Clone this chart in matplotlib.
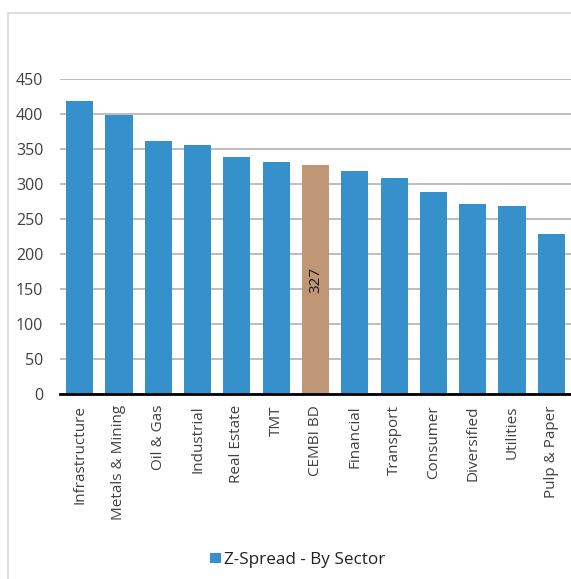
import matplotlib.pyplot as plt
from matplotlib.patches import Rectangle
import numpy as np

plt.rcParams['font.family'] = ['Open Sans', 'DejaVu Sans']

# Data
sectors = ["Infrastructure", "Metals & Mining", "Oil & Gas", "Industrial", "Real Estate",
           "TMT", "CEMBI BD", "Financial", "Transport", "Consumer", "Diversified",
           "Utilities", "Pulp & Paper"]
z_spread = [418, 398, 362, 355, 339, 331, 327, 318, 309, 289, 271, 268, 228]
highlight = "CEMBI BD"

blue = '#3690CB'
tan = '#BF9676'

fig = plt.figure(figsize=(5.71, 5.79), dpi=100)

# light gray chart border (cut off at right and bottom)
fig.patches.append(Rectangle((8 / 571, -0.1), 1.2, 1.1 - 13 / 579,
                             transform=fig.transFigure, fill=False,
                             edgecolor='#D9D9D9', linewidth=1.2))

ax = fig.add_axes([60 / 571, (579 - 394) / 579, (571 - 60) / 571, (394 - 79) / 579])

x = np.arange(len(sectors))
colors = [tan if s == highlight else blue for s in sectors]
bars = ax.bar(x, z_spread, width=0.69, color=colors, zorder=3)

# value label on the highlighted bar
i = sectors.index(highlight)
ax.text(x[i], z_spread[i] / 2, str(z_spread[i]), rotation=90,
        ha='center', va='center', fontsize=11, color='#1a1a1a', zorder=4)

ax.set_xlim(-0.5, len(sectors) - 0.5)
ax.set_ylim(0, 450)
ax.set_yticks(np.arange(0, 451, 50))
ax.yaxis.grid(True, color='#B8B8B8', linewidth=1.3, zorder=0)
ax.set_axisbelow(True)

for side in ['top', 'right', 'left']:
    ax.spines[side].set_visible(False)
ax.spines['bottom'].set_color('black')
ax.spines['bottom'].set_linewidth(2)
ax.spines['bottom'].set_zorder(5)

ax.set_xticks(x)
ax.set_xticklabels(sectors, rotation=90, fontsize=11, color='#404040')
ax.tick_params(axis='both', length=0)
ax.tick_params(axis='y', labelsize=11.5, labelcolor='#404040', pad=12)
ax.tick_params(axis='x', pad=8)

ax.legend([bars[0]], ["Z-Spread - By Sector"], loc='center',
          bbox_to_anchor=(298 / 571, 1 - 560 / 579), bbox_transform=fig.transFigure,
          frameon=False, fontsize=12.3, handlelength=0.6, handleheight=0.6,
          handletextpad=0.2, labelcolor='#222222')

fig.savefig('out.png', dpi=100)
